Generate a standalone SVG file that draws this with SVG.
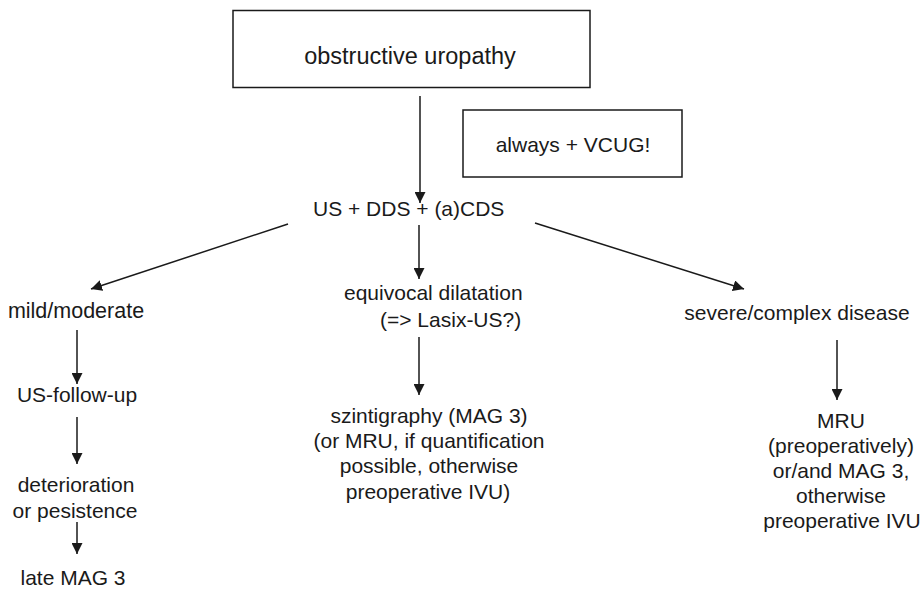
<svg xmlns="http://www.w3.org/2000/svg" width="923" height="589" viewBox="0 0 923 589">
<style>
text{font-family:"Liberation Sans",Arial,sans-serif;font-size:21px;fill:#1a1a1a}
.c{text-anchor:middle}
.box{fill:#fff;stroke:#1a1a1a;stroke-width:1.5}
.e{stroke:#1a1a1a;stroke-width:1.5;fill:none;marker-end:url(#ah)}
</style>
<defs>
<marker id="ah" markerUnits="userSpaceOnUse" markerWidth="12" markerHeight="11" refX="11" refY="5.5" orient="auto">
<path d="M0,0 L11,5.5 L0,11 z" fill="#1a1a1a"/>
</marker>
</defs>
<rect width="923" height="589" fill="#fff"/>
<g id="connectors">
<line class="e" x1="420" y1="96" x2="420" y2="203"/>
<line class="e" x1="419" y1="225" x2="419" y2="279"/>
<line class="e" x1="419" y1="337" x2="419" y2="395"/>
<line class="e" x1="288" y1="224" x2="91" y2="289"/>
<line class="e" x1="535" y1="223" x2="744" y2="289"/>
<line class="e" x1="77" y1="330" x2="77" y2="384"/>
<line class="e" x1="77" y1="417" x2="77" y2="464"/>
<line class="e" x1="77" y1="522" x2="77" y2="554"/>
<line class="e" x1="837" y1="340" x2="837" y2="400"/>
</g>
<g id="n-obstructive">
<rect class="box" x="233" y="10.5" width="357" height="77"/>
<text class="c" x="410" y="64" style="font-size:23.5px">obstructive uropathy</text>
</g>
<g id="n-vcug">
<rect class="box" x="463" y="110" width="219" height="67"/>
<text class="c" x="573" y="152">always + VCUG!</text>
</g>
<g id="n-us">
<text x="313" y="216">US + DDS + (a)CDS</text>
</g>
<g id="n-mild">
<text class="c" x="76" y="318" style="font-size:21.5px">mild/moderate</text>
</g>
<g id="n-usfollow">
<text class="c" x="77" y="402">US-follow-up</text>
</g>
<g id="n-deterioration">
<text class="c" x="76" y="492">deterioration</text>
<text class="c" x="75" y="518">or pesistence</text>
</g>
<g id="n-late">
<text class="c" x="73" y="585">late MAG 3</text>
</g>
<g id="n-equivocal">
<text x="344" y="300">equivocal dilatation</text>
<text x="380" y="327">(=&gt; Lasix-US?)</text>
</g>
<g id="n-szinti">
<text class="c" x="429" y="423">szintigraphy (MAG 3)</text>
<text class="c" x="429" y="448">(or MRU, if quantification</text>
<text class="c" x="429" y="473">possible, otherwise</text>
<text class="c" x="428" y="499">preoperative IVU)</text>
</g>
<g id="n-severe">
<text class="c" x="797" y="320">severe/complex disease</text>
</g>
<g id="n-mru">
<text class="c" x="841" y="428">MRU</text>
<text class="c" x="841" y="453">(preoperatively)</text>
<text class="c" x="841" y="478">or/and MAG 3,</text>
<text class="c" x="841" y="503">otherwise</text>
<text class="c" x="842" y="528">preoperative IVU</text>
</g>
</svg>
